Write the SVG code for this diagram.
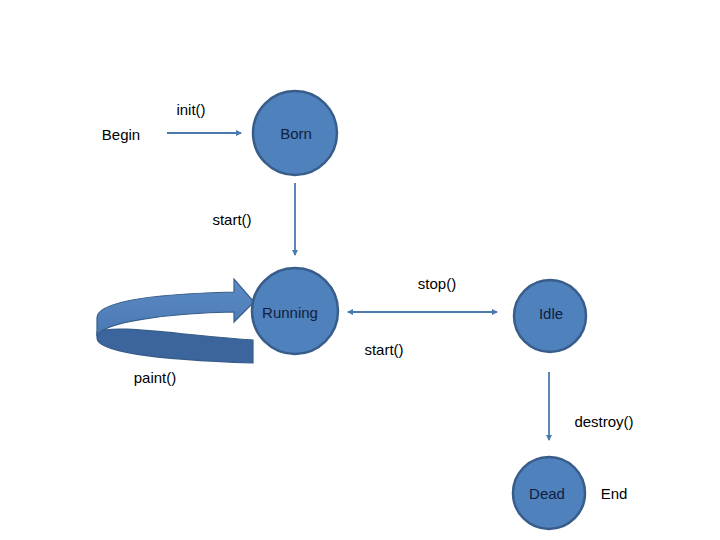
<svg xmlns="http://www.w3.org/2000/svg" width="720" height="540" viewBox="0 0 720 540">
<defs>
<style>
.st{fill:#4f81bd;stroke:#385d8a;stroke-width:2.5}
.lbl{font-family:"Liberation Sans",Arial,sans-serif;font-size:15px;fill:#000;text-anchor:middle}
.in{fill:#0f1e3c}
.cn{stroke:#4a7ab0;stroke-width:1.8;fill:none}
</style>
<marker id="ah" viewBox="0 0 6 6" refX="5" refY="3" markerWidth="3.5" markerHeight="3.5" orient="auto-start-reverse" markerUnits="strokeWidth">
<path d="M0,0 L6,3 L0,6 Z" fill="#4a7ab0"/>
</marker>
<linearGradient id="lg" x1="0" y1="0" x2="0" y2="1">
<stop offset="0" stop-color="#5b8bc6"/>
<stop offset="1" stop-color="#4a78b2"/>
</linearGradient>
</defs>
<rect width="720" height="540" fill="#fff"/>
<g id="connectors">
<line class="cn" x1="167" y1="133" x2="241" y2="133" marker-end="url(#ah)"/>
<line class="cn" x1="295" y1="183" x2="295" y2="255" marker-end="url(#ah)"/>
<line class="cn" x1="348" y1="312" x2="497" y2="312" marker-start="url(#ah)" marker-end="url(#ah)"/>
<line class="cn" x1="549" y1="372" x2="549" y2="440" marker-end="url(#ah)"/>
<g id="paint-loop">
<path d="M97,332 C115,324 170,334 253,340 L253,363 C160,360 97,352 97,338 Z" fill="#3b659c" stroke="#385d8a" stroke-width="1.2"/>
<path d="M234,292 L234,279 L254,302 L234,322 L234,312 C170,313 102,322 97,336 L97,318 C97,302 150,294 234,292 Z" fill="url(#lg)" stroke="#385d8a" stroke-width="1.2"/>
</g>
</g>
<g id="begin"><text class="lbl" x="121" y="140">Begin</text></g>
<g id="born"><circle class="st" cx="295" cy="133" r="42"/><text class="lbl in" x="296" y="139">Born</text></g>
<g id="running"><circle class="st" cx="295" cy="311" r="43"/><text class="lbl in" x="290" y="318">Running</text></g>
<g id="idle"><circle class="st" cx="550" cy="316" r="36"/><text class="lbl in" x="551" y="319">Idle</text></g>
<g id="dead"><circle class="st" cx="549" cy="493" r="36"/><text class="lbl in" x="547" y="499">Dead</text></g>
<g id="end"><text class="lbl" x="614" y="499">End</text></g>
<g id="labels">
<text class="lbl" x="191" y="115">init()</text>
<text class="lbl" x="232" y="225">start()</text>
<text class="lbl" x="437" y="289">stop()</text>
<text class="lbl" x="384" y="355">start()</text>
<text class="lbl" x="155" y="383">paint()</text>
<text class="lbl" x="604" y="427">destroy()</text>
</g>
</svg>
